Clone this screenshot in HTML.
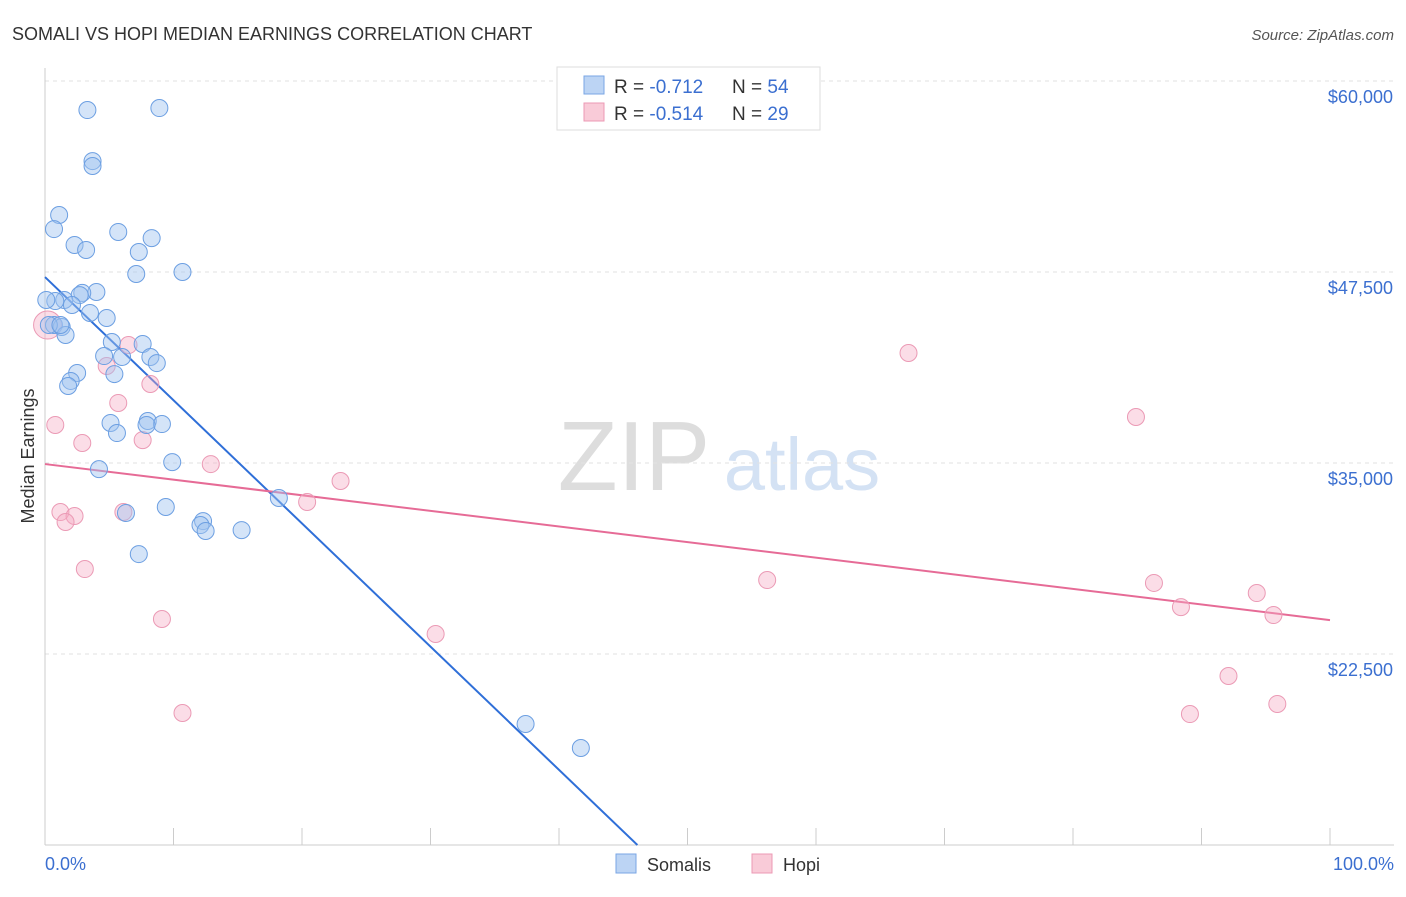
<!DOCTYPE html>
<html><head><meta charset="utf-8"><style>
body{margin:0;background:#fff;font-family:"Liberation Sans",sans-serif;}
svg text{font-family:"Liberation Sans",sans-serif;}
</style></head><body>
<svg id="chart" width="1406" height="892" xmlns="http://www.w3.org/2000/svg">
<text x="12" y="40" font-size="18" fill="#333">SOMALI VS HOPI MEDIAN EARNINGS CORRELATION CHART</text>
<text x="1394" y="40" font-size="15" fill="#555" font-style="italic" text-anchor="end">Source: ZipAtlas.com</text>
<text x="634" y="490" font-size="98" fill="#ddd" font-family="Liberation Serif" text-anchor="middle">ZIP</text>
<text x="802" y="490" font-size="74" fill="#d4e2f4" text-anchor="middle">atlas</text>
<g id="grid"></g><g id="axes"></g><g id="trends"></g><g id="points"></g>
<text transform="translate(34,456) rotate(-90)" font-size="18" fill="#333" text-anchor="middle">Median Earnings</text>
<text x="45" y="870" font-size="18" fill="#3b6fd0">0.0%</text>
<text x="1394" y="870" font-size="18" fill="#3b6fd0" text-anchor="end">100.0%</text>
<g>
<rect x="557" y="67" width="263" height="63" fill="#fff" stroke="#ddd"/>
<rect x="584" y="76" width="20" height="18" fill="#bcd4f4" stroke="#7aa6e4"/>
<rect x="584" y="103" width="20" height="18" fill="#f9cbd8" stroke="#ec9ab4"/>
<text x="614" y="93" font-size="19" fill="#333">R = <tspan fill="#3b6fd0">-0.712</tspan></text>
<text x="732" y="93" font-size="19" fill="#333">N = <tspan fill="#3b6fd0">54</tspan></text>
<text x="614" y="120" font-size="19" fill="#333">R = <tspan fill="#3b6fd0">-0.514</tspan></text>
<text x="732" y="120" font-size="19" fill="#333">N = <tspan fill="#3b6fd0">29</tspan></text>
</g>
<g>
<rect x="616" y="854" width="20" height="19" fill="#bcd4f4" stroke="#7aa6e4"/>
<text x="647" y="871" font-size="18" fill="#333">Somalis</text>
<rect x="752" y="854" width="20" height="19" fill="#f9cbd8" stroke="#ec9ab4"/>
<text x="783" y="871" font-size="18" fill="#333">Hopi</text>
</g>
</svg>
<script>
const yTicks=[60000,47500,35000,22500];
const yTickLabels=["$60,000","$47,500","$35,000","$22,500"];
const xTicks=[0,10,20,30,40,50,60,70,80,90,100];
const somaliX=[3.3,8.9,3.7,3.7,1.1,0.7,5.7,8.3,2.3,3.2,7.3,7.1,10.7,4.0,2.9,2.7,1.5,0.8,2.1,3.5,4.8,0.7,1.3,1.6,5.2,7.6,4.6,6.0,8.2,8.7,5.4,2.5,2.0,1.8,5.1,8.0,9.1,7.9,5.6,9.9,4.2,9.4,6.3,12.3,12.1,12.5,15.3,18.2,7.3,37.4,41.7,0.3,0.1,1.2];
const somaliY=[58100,58230,54760,54440,51230,50310,50120,49720,49270,48940,48810,47370,47500,46190,46130,45990,45670,45600,45340,44820,44490,44030,43900,43380,42920,42790,42000,41940,41940,41540,40820,40890,40370,40040,37620,37750,37550,37490,36960,35060,34600,32120,31730,31200,30940,30550,30610,32710,29040,17920,16350,44030,45670,44030];
const hopiX=[0.2,0.8,6.5,4.8,8.2,5.7,2.9,7.6,12.9,23.0,20.4,1.2,2.3,1.6,6.1,3.1,9.1,10.7,30.4,67.2,84.9,56.2,86.3,88.4,94.3,95.6,92.1,89.1,95.9];
const hopiY=[44030,37490,42720,41350,40170,38930,36310,36500,34930,33820,32450,31790,31530,31140,31790,28060,24790,18640,23810,42200,38010,27340,27150,25570,26490,25050,21060,18570,19230];
const somaliTrendX=[0,46.1];
const somaliTrendY=[47170,10000];
const hopiTrendX=[0,100];
const hopiTrendY=[34930,24720];
const NS="http://www.w3.org/2000/svg";
const sx=v=>45+v*12.85;
const sy=v=>81+(60000-v)/12500*191;
function mk(tag,attrs,parent){const e=document.createElementNS(NS,tag);for(const k in attrs)e.setAttribute(k,attrs[k]);document.getElementById(parent).appendChild(e);return e;}
yTicks.forEach((t,i)=>{
 const l=mk('line',{x1:45,x2:1394,y1:sy(t),y2:sy(t),stroke:'#e2e2e2','stroke-dasharray':'4,4'},'grid');
 
 
 const tx=mk('text',{x:1393,y:sy(t)+22,'font-size':18,fill:'#3b6fd0','text-anchor':'end'},'grid');
 tx.textContent=yTickLabels[i];
 
 
});
const ax=mk('line',{x1:45,x2:1394,y1:845,y2:845,stroke:'#ccc'},'axes');


const ay=mk('line',{x1:45,x2:45,y1:68,y2:845,stroke:'#ccc'},'axes');


xTicks.forEach(t=>{
 const l=mk('line',{x1:sx(t),x2:sx(t),y1:828,y2:845,stroke:'#ccc'},'axes');
 
 
});
const t1=mk('line',{x1:sx(somaliTrendX[0]),y1:sy(somaliTrendY[0]),x2:sx(somaliTrendX[1]),y2:sy(somaliTrendY[1]),stroke:'#2f6fd8','stroke-width':2},'trends');


const t2=mk('line',{x1:sx(hopiTrendX[0]),y1:sy(hopiTrendY[0]),x2:sx(hopiTrendX[1]),y2:sy(hopiTrendY[1]),stroke:'#e66b96','stroke-width':2},'trends');


hopiX.forEach((x,i)=>{
 const c=mk('circle',{cx:sx(x),cy:sy(hopiY[i]),r:i===0?14:8.5,fill:'rgba(244,170,195,0.4)',stroke:'#eb9ab5','stroke-width':1},'points');
 
 
});
somaliX.forEach((x,i)=>{
 const c=mk('circle',{cx:sx(x),cy:sy(somaliY[i]),r:8.5,fill:'rgba(160,195,240,0.45)',stroke:'#6c9fe2','stroke-width':1},'points');
 
 
});
</script>
</body></html>
